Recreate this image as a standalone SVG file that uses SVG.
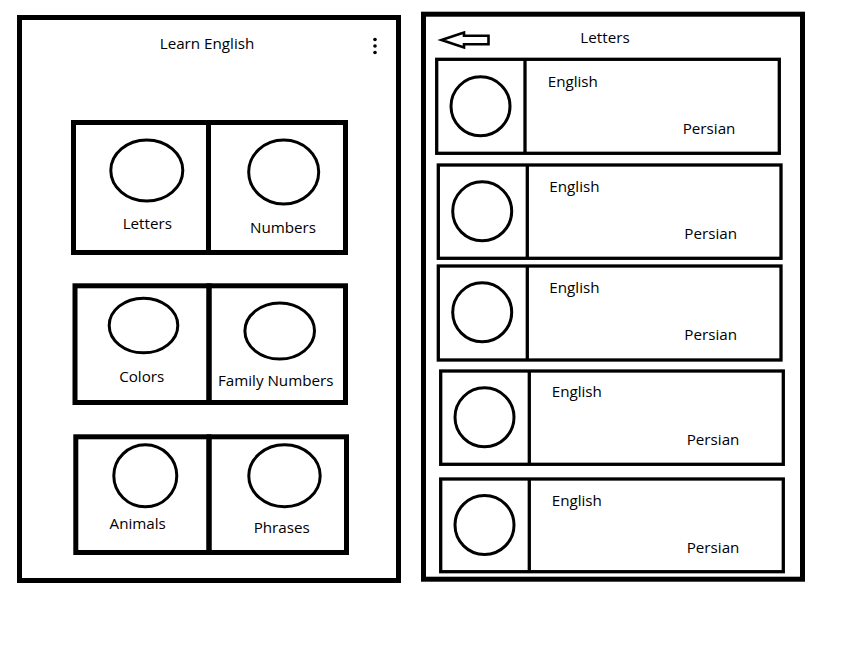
<svg xmlns="http://www.w3.org/2000/svg" width="868" height="648" viewBox="0 0 868 648">
<style>
.frame{fill:none;stroke:#000;stroke-width:5}
.card{fill:none;stroke:#000;stroke-width:5}
.row{fill:none;stroke:#000;stroke-width:3.3}
.ic{fill:none;stroke:#000;stroke-width:3}
text{font-family:"Open Sans","Noto Sans",sans-serif;font-size:15.2px;fill:#000}
.c{text-anchor:middle}
</style>
<rect width="868" height="648" fill="#fff"/>
<g id="screen-home">
<rect class="frame" x="19.5" y="17.5" width="379" height="563"/>
<text class="c" x="207" y="49">Learn English</text>
<g id="menu-dots"><circle cx="375" cy="39.5" r="1.8"/><circle cx="375" cy="46" r="1.8"/><circle cx="375" cy="52.5" r="1.8"/></g>
</g>
<g id="card-letters">
<rect class="card" x="73.5" y="122.5" width="135" height="130"/>
<ellipse class="ic" cx="146.8" cy="170.5" rx="36" ry="30.5"/>
<text class="c" x="147.3" y="229.3">Letters</text>
</g>
<g id="card-numbers">
<rect class="card" x="208.5" y="122.5" width="137" height="130"/>
<ellipse class="ic" cx="283.7" cy="172" rx="35" ry="32"/>
<text class="c" x="283" y="232.7">Numbers</text>
</g>
<g id="card-colors">
<rect class="card" x="75" y="285.8" width="134" height="116.7"/>
<ellipse class="ic" cx="143.5" cy="325.5" rx="34.3" ry="27.3"/>
<text class="c" x="141.7" y="381.7">Colors</text>
</g>
<g id="card-family-numbers">
<rect class="card" x="209" y="285.8" width="136.5" height="116.7"/>
<ellipse class="ic" cx="279.7" cy="331" rx="34.8" ry="28"/>
<text class="c" x="275.7" y="385.7">Family Numbers</text>
</g>
<g id="card-animals">
<rect class="card" x="75.8" y="436.8" width="133.2" height="115.7"/>
<ellipse class="ic" cx="145.3" cy="475.8" rx="31.5" ry="31"/>
<text class="c" x="137.7" y="529">Animals</text>
</g>
<g id="card-phrases">
<rect class="card" x="209" y="436.8" width="137.5" height="115.7"/>
<ellipse class="ic" cx="284.5" cy="475.8" rx="35.7" ry="31"/>
<text class="c" x="281.7" y="532.7">Phrases</text>
</g>
<g id="screen-letters">
<rect class="frame" x="423.5" y="14.2" width="379" height="565"/>
<polygon id="back-arrow" points="441.5,40 464,32.5 464,35.8 488.5,35.8 488.5,44.3 464,44.3 464,47.5" fill="none" stroke="#000" stroke-width="2.6" stroke-linejoin="miter"/>
<text class="c" x="605" y="42.7">Letters</text>
</g>
<g id="row-1">
<rect class="row" x="436.7" y="59.3" width="342.6" height="94"/>
<line class="row" x1="525" y1="59.3" x2="525" y2="153.3"/>
<circle class="ic" cx="480.5" cy="106.3" r="29.5"/>
<text x="547.7" y="86.7">English</text>
<text x="682.7" y="134">Persian</text>
</g>
<g id="row-2">
<rect class="row" x="438.3" y="165" width="342.7" height="93.3"/>
<line class="row" x1="527.3" y1="165" x2="527.3" y2="258.3"/>
<circle class="ic" cx="482.2" cy="211.3" r="29.5"/>
<text x="549.3" y="191.7">English</text>
<text x="684.3" y="239">Persian</text>
</g>
<g id="row-3">
<rect class="row" x="438.3" y="266" width="342.7" height="94"/>
<line class="row" x1="527.3" y1="266" x2="527.3" y2="360"/>
<circle class="ic" cx="482.2" cy="312.3" r="29.5"/>
<text x="549.3" y="292.7">English</text>
<text x="684.3" y="340">Persian</text>
</g>
<g id="row-4">
<rect class="row" x="440.7" y="371" width="342.6" height="93.3"/>
<line class="row" x1="529.3" y1="371" x2="529.3" y2="464.3"/>
<circle class="ic" cx="484.5" cy="417.3" r="29.5"/>
<text x="551.7" y="397.3">English</text>
<text x="686.7" y="445">Persian</text>
</g>
<g id="row-5">
<rect class="row" x="440.7" y="479" width="342.6" height="92.7"/>
<line class="row" x1="529.3" y1="479" x2="529.3" y2="571.7"/>
<circle class="ic" cx="484.5" cy="525" r="29.5"/>
<text x="551.7" y="505.7">English</text>
<text x="686.7" y="552.7">Persian</text>
</g>
<g id="connectors"></g>
</svg>
